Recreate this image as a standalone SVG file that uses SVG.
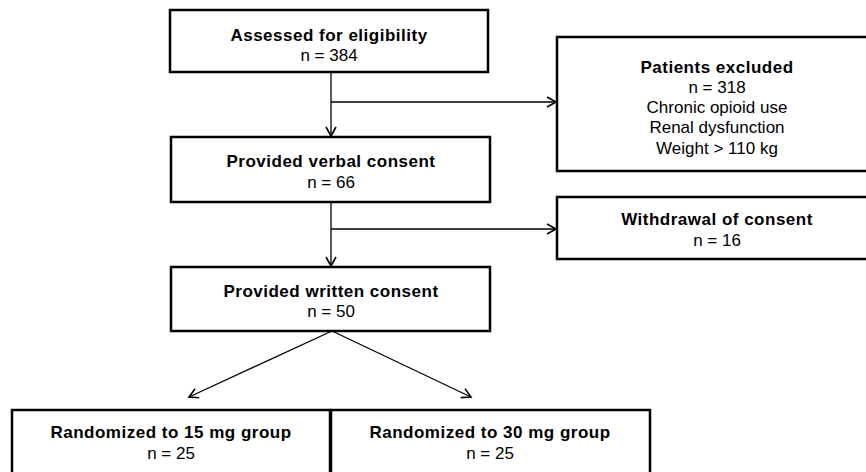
<svg xmlns="http://www.w3.org/2000/svg" width="866" height="472" viewBox="0 0 866 472">
<style>
.box{fill:#fff;stroke:#000;stroke-width:2.5}
.t{font-family:"Liberation Sans",Arial,sans-serif;font-size:17px;text-anchor:middle;fill:#000}
.b{font-weight:bold;letter-spacing:0.5px}
.c{fill:none;stroke:#000;stroke-width:1.3}
</style>
<defs>
<marker id="ah" markerUnits="userSpaceOnUse" markerWidth="14" markerHeight="14" refX="10" refY="6" orient="auto">
<path d="M1,1 L10,6 L1,11" fill="none" stroke="#000" stroke-width="1.6"/>
</marker>
</defs>
<rect width="866" height="472" fill="#fff"/>
<g id="connectors">
<line class="c" x1="331" y1="72" x2="331" y2="136" marker-end="url(#ah)"/>
<line class="c" x1="331" y1="102" x2="556" y2="102" marker-end="url(#ah)"/>
<line class="c" x1="331" y1="202" x2="331" y2="266" marker-end="url(#ah)"/>
<line class="c" x1="331" y1="229" x2="556" y2="229" marker-end="url(#ah)"/>
<line class="c" x1="332" y1="331" x2="189" y2="397" marker-end="url(#ah)"/>
<line class="c" x1="332" y1="331" x2="471" y2="397" marker-end="url(#ah)"/>
</g>
<g id="assessed">
<rect class="box" x="170" y="10" width="318" height="62"/>
<text class="t b" x="329" y="41">Assessed for eligibility</text>
<text class="t" x="329" y="61">n = 384</text>
</g>
<g id="excluded">
<rect class="box" x="557" y="37" width="312" height="134"/>
<text class="t b" x="717" y="73">Patients excluded</text>
<text class="t" x="717" y="93">n = 318</text>
<text class="t" x="717" y="113">Chronic opioid use</text>
<text class="t" x="717" y="133">Renal dysfunction</text>
<text class="t" x="717" y="154">Weight &gt; 110 kg</text>
</g>
<g id="verbal">
<rect class="box" x="171" y="137" width="319" height="65"/>
<text class="t b" x="331" y="167">Provided verbal consent</text>
<text class="t" x="331" y="188">n = 66</text>
</g>
<g id="withdrawal">
<rect class="box" x="557" y="197" width="312" height="62"/>
<text class="t b" x="717" y="225">Withdrawal of consent</text>
<text class="t" x="717" y="246">n = 16</text>
</g>
<g id="written">
<rect class="box" x="171" y="267" width="319" height="64"/>
<text class="t b" x="331" y="297">Provided written consent</text>
<text class="t" x="331" y="317">n = 50</text>
</g>
<g id="group15">
<rect class="box" x="12" y="410" width="318" height="64"/>
<text class="t b" x="171" y="438">Randomized to 15 mg group</text>
<text class="t" x="171" y="459">n = 25</text>
</g>
<g id="group30">
<rect class="box" x="331" y="410" width="319" height="64"/>
<text class="t b" x="490" y="438">Randomized to 30 mg group</text>
<text class="t" x="490" y="459">n = 25</text>
</g>
</svg>
